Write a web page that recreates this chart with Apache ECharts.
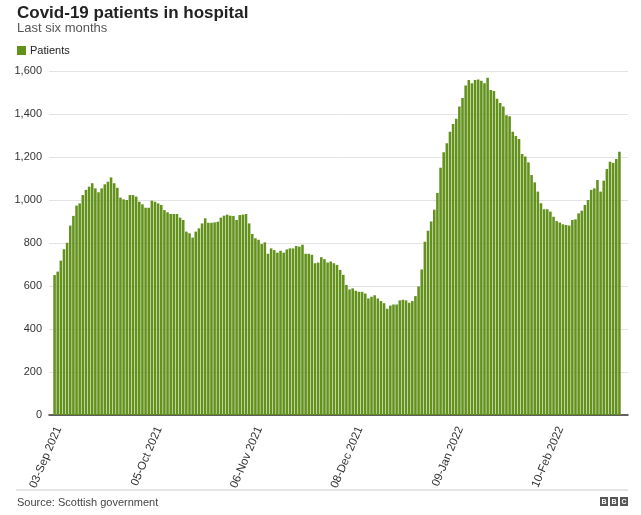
<!DOCTYPE html>
<html>
<head>
<meta charset="utf-8">
<script src="https://cdn.jsdelivr.net/npm/echarts@6/dist/echarts.min.js"></script>
<style>
html,body{margin:0;padding:0;background:#fff;}
#chart{width:641px;height:515px;}
</style>
</head>
<body>
<div id="chart"></div>
<script>
// Data
var startDate = [2021, 8, 3]; // 03-Sep-2021 (month 0-based)
var monthNames = ['Jan','Feb','Mar','Apr','May','Jun','Jul','Aug','Sep','Oct','Nov','Dec'];
var patients = [
651,667,718,771,801,881,926,974,984,1023,
1047,1062,1078,1054,1036,1054,1073,1085,1105,1078,
1057,1011,1003,1000,1023,1023,1016,992,980,964,
964,997,992,984,977,953,943,935,935,935,
918,907,853,845,825,853,868,891,915,894,
894,896,899,918,927,932,927,926,907,930,
932,935,891,842,822,815,795,803,750,775,
767,755,764,755,770,775,775,786,783,792,
750,750,745,706,709,734,725,709,714,706,
698,675,652,605,584,589,578,573,573,565,
542,550,557,542,530,520,494,509,514,514,
533,536,533,522,530,553,598,677,806,857,
900,955,1033,1150,1222,1264,1318,1353,1378,1435,
1474,1532,1558,1543,1558,1561,1555,1543,1569,1512,
1507,1471,1451,1435,1394,1389,1318,1298,1284,1214,
1202,1175,1116,1082,1039,985,957,957,946,922,
902,895,887,884,881,907,910,938,950,977,
1000,1047,1054,1093,1039,1090,1144,1178,1173,1191,
1225
];
var yTicks = [0,200,400,600,800,1000,1200,1400,1600];

var categories = [];
for (var i = 0; i < patients.length; i++) {
  var d = new Date(Date.UTC(startDate[0], startDate[1], startDate[2] + i));
  var dd = ('0' + d.getUTCDate()).slice(-2);
  categories.push(dd + '-' + monthNames[d.getUTCMonth()] + ' ' + d.getUTCFullYear());
}

var chart = echarts.init(document.getElementById('chart'), null, {renderer: 'canvas'});
var font = '"Liberation Sans", Arial, Helvetica, sans-serif';
var option = {
  animation: false,
  backgroundColor: '#fff',
  textStyle: {fontFamily: font},
  title: [
    {text: 'Covid-19 patients in hospital', left: 17, top: 5, padding: 0,
     textStyle: {fontFamily: font, fontSize: 17, fontWeight: 'bold', color: '#222'}},
    {text: 'Last six months', left: 17, top: 22, padding: 0,
     textStyle: {fontFamily: font, fontSize: 13, fontWeight: 'normal', color: '#555'}},
    {text: 'Source: Scottish government', left: 17, top: 497, padding: 0,
     textStyle: {fontFamily: font, fontSize: 11, fontWeight: 'normal', color: '#444'}}
  ],
  legend: {
    left: 12, top: 40, icon: 'rect', itemWidth: 9, itemHeight: 9, itemGap: 4,
    textStyle: {fontFamily: font, fontSize: 11, color: '#222', padding: [0,0,0,-1]},
    data: ['Patients']
  },
  grid: [
    {left: 49, right: 13, top: 71, bottom: 100},
    {left: 53, right: 20, top: 71, bottom: 100},
    {left: 57, right: 16, top: 71, bottom: 100}
  ],
  xAxis: [
    {gridIndex: 0, type: 'value', min: 0, max: 1, show: true,
     axisLine: {show: true, lineStyle: {color: '#333', width: 1.5}},
     axisTick: {show: false}, axisLabel: {show: false}, splitLine: {show: false}},
    {gridIndex: 1, type: 'category', data: categories, boundaryGap: true,
     axisLine: {show: false}, axisTick: {show: false}, axisLabel: {show: false}},
    {gridIndex: 2, type: 'category', data: categories, boundaryGap: true,
     axisLine: {show: false}, axisTick: {show: false},
     axisLabel: {interval: 31, rotate: 67, margin: 12, fontFamily: font, fontSize: 11.5, color: '#333'}}
  ],
  yAxis: [
    {gridIndex: 0, type: 'value', min: 0, max: 1600, interval: 200,
     axisLine: {show: false}, axisTick: {show: false},
     axisLabel: {margin: 7, fontFamily: font, fontSize: 11, color: '#333',
       formatter: function (v) { return v.toLocaleString('en-GB'); }},
     splitLine: {show: true, lineStyle: {color: '#e3e3e3', width: 1}}},
    {gridIndex: 1, type: 'value', min: 0, max: 1600, interval: 200, show: false,
     splitLine: {show: false}},
    {gridIndex: 2, type: 'value', min: 0, max: 1600, interval: 200, show: false,
     splitLine: {show: false}}
  ],
  series: [{
    name: 'Patients', type: 'bar', xAxisIndex: 1, yAxisIndex: 1,
    data: patients, barCategoryGap: '18%',
    itemStyle: {color: '#62921c'}
  }],
  graphic: [
    {type: 'line', shape: {x1: 16, y1: 490, x2: 628, y2: 490}, style: {stroke: '#ccc', lineWidth: 1}},
    {type: 'group', left: 600, top: 497, children: [
      {type: 'rect', shape: {x: 0, y: 0, width: 8, height: 9}, style: {fill: '#555'}},
      {type: 'text', style: {text: 'B', x: 4, y: 5, align: 'center', verticalAlign: 'middle', fill: '#fff', font: 'bold 7px ' + font}},
      {type: 'rect', shape: {x: 10, y: 0, width: 8, height: 9}, style: {fill: '#555'}},
      {type: 'text', style: {text: 'B', x: 14, y: 5, align: 'center', verticalAlign: 'middle', fill: '#fff', font: 'bold 7px ' + font}},
      {type: 'rect', shape: {x: 20, y: 0, width: 8, height: 9}, style: {fill: '#555'}},
      {type: 'text', style: {text: 'C', x: 24, y: 5, align: 'center', verticalAlign: 'middle', fill: '#fff', font: 'bold 7px ' + font}}
    ]}
  ]
};
chart.setOption(option);
</script>
</body>
</html>
